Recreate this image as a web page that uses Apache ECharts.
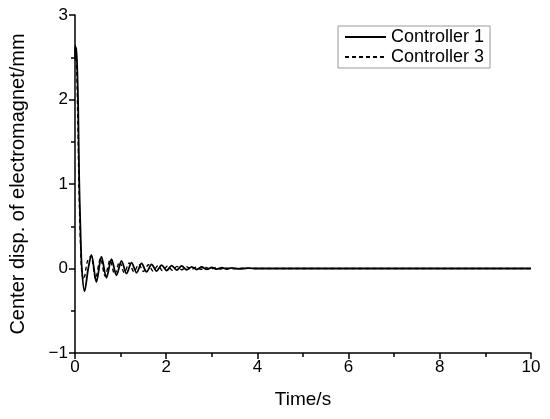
<!DOCTYPE html>
<html>
<head>
<meta charset="utf-8">
<script src="https://cdn.jsdelivr.net/npm/echarts@6/dist/echarts.min.js"></script>
<style>
  html, body { margin: 0; padding: 0; background: #fff; }
  #chart { width: 550px; height: 419px; }
</style>
</head>
<body>
<div id="chart"></div>
<script>
// Controller 1 (solid) - time / displacement
const timeC1 = [0, 0.01, 0.02, 0.03, 0.05, 0.07, 0.09, 0.12, 0.15, 0.21, 0.29, 0.36, 0.47, 0.58, 0.69, 0.80, 0.91,
  1.02, 1.13, 1.24, 1.35, 1.46, 1.57, 1.68, 1.79, 1.90, 2.01, 2.12, 2.23, 2.34, 2.45, 2.56, 2.67, 2.78, 2.89,
  3.00, 3.11, 3.22, 3.33, 3.44, 3.60, 3.80, 4.00, 10];
const dispC1 = [2.55, 2.64, 2.47, 2.61, 2.35, 1.90, 1.10, 0.45, 0.00, -0.27, 0.00, 0.16, -0.16, 0.14, -0.11, 0.11, -0.08,
  0.09, -0.06, 0.07, -0.05, 0.06, -0.04, 0.05, -0.03, 0.04, -0.025, 0.035, -0.02, 0.03, -0.015, 0.02, -0.012, 0.018, -0.01,
  0.012, -0.008, 0.01, -0.006, 0.008, -0.004, 0.004, 0, 0];

// Controller 3 (dashed)
const timeC3 = [0, 0.01, 0.02, 0.04, 0.06, 0.09, 0.12, 0.15, 0.19, 0.27, 0.35, 0.45, 0.56, 0.66, 0.77, 0.87, 0.98,
  1.08, 1.19, 1.29, 1.40, 1.50, 1.61, 1.71, 1.82, 1.92, 2.03, 2.13, 2.24, 2.34, 2.45, 2.55, 2.66, 2.76, 2.87,
  2.97, 3.08, 3.18, 3.29, 3.50, 3.70, 4.00, 10];
const dispC3 = [2.50, 2.62, 2.55, 2.30, 1.80, 0.90, 0.30, -0.05, -0.13, 0.08, 0.15, -0.12, 0.12, -0.09, 0.10, -0.07, 0.08,
  -0.05, 0.065, -0.04, 0.05, -0.035, 0.045, -0.03, 0.035, -0.025, 0.03, -0.02, 0.025, -0.015, 0.02, -0.012, 0.015, -0.01, 0.012,
  -0.008, 0.01, -0.006, 0.006, -0.004, 0.003, 0, 0];

const xTicks = [0, 2, 4, 6, 8, 10];
const yTicks = [-1, 0, 1, 2, 3];

const pair = (t, v) => t.map((x, i) => [x, v[i]]);
const font = 'Liberation Sans, Arial, sans-serif';

const chart = echarts.init(document.getElementById('chart'));
chart.setOption({
  animation: false,
  grid: { left: 75, right: 19, top: 15, bottom: 66 },
  legend: {
    orient: 'vertical',
    left: 338,
    top: 26,
    padding: [2, 6, 2, 6],
    itemGap: 2,
    itemWidth: 41,
    itemHeight: 20,
    borderColor: '#999',
    borderWidth: 1,
    itemStyle: { opacity: 0 },
    textStyle: { fontFamily: font, fontSize: 18, color: '#000', padding: [0, 0, 0, 0] },
    data: ['Controller 1', 'Controller 3']
  },
  xAxis: {
    type: 'value',
    min: xTicks[0],
    max: xTicks[xTicks.length - 1],
    interval: 2,
    name: 'Time/s',
    nameLocation: 'middle',
    nameGap: 37,
    nameTextStyle: { fontFamily: font, fontSize: 19, color: '#000' },
    axisLine: { onZero: false, lineStyle: { color: '#000', width: 1.5 } },
    axisTick: { inside: false, length: 6, lineStyle: { color: '#000', width: 1.5 } },
    minorTick: { show: true, splitNumber: 2, length: 4, lineStyle: { color: '#000', width: 1.5 } },
    axisLabel: { fontFamily: font, fontSize: 17, color: '#000', margin: 6 },
    splitLine: { show: false }
  },
  yAxis: {
    type: 'value',
    min: yTicks[0],
    max: yTicks[yTicks.length - 1],
    interval: 1,
    name: 'Center disp. of electromagnet/mm',
    nameLocation: 'middle',
    nameGap: 47,
    nameTextStyle: { fontFamily: font, fontSize: 20, color: '#000' },
    axisLine: { show: true, lineStyle: { color: '#000', width: 1.5 } },
    axisTick: { show: true, length: 6, lineStyle: { color: '#000', width: 1.5 } },
    minorTick: { show: true, splitNumber: 2, length: 4, lineStyle: { color: '#000', width: 1.5 } },
    axisLabel: {
      fontFamily: font, fontSize: 17, color: '#000', margin: 7,
      formatter: v => String(v).replace('-', '\u2212')
    },
    splitLine: { show: false }
  },
  series: [
    {
      name: 'Controller 1',
      type: 'line',
      data: pair(timeC1, dispC1),
      symbol: 'none',
      smooth: 0.3,
      lineStyle: { color: '#000', width: 1.8 },
      itemStyle: { color: '#000' }
    },
    {
      name: 'Controller 3',
      type: 'line',
      data: pair(timeC3, dispC3),
      symbol: 'none',
      smooth: 0.3,
      lineStyle: { color: '#000', width: 1.4, type: [4, 3] },
      itemStyle: { color: '#000' }
    }
  ]
});
</script>
</body>
</html>
